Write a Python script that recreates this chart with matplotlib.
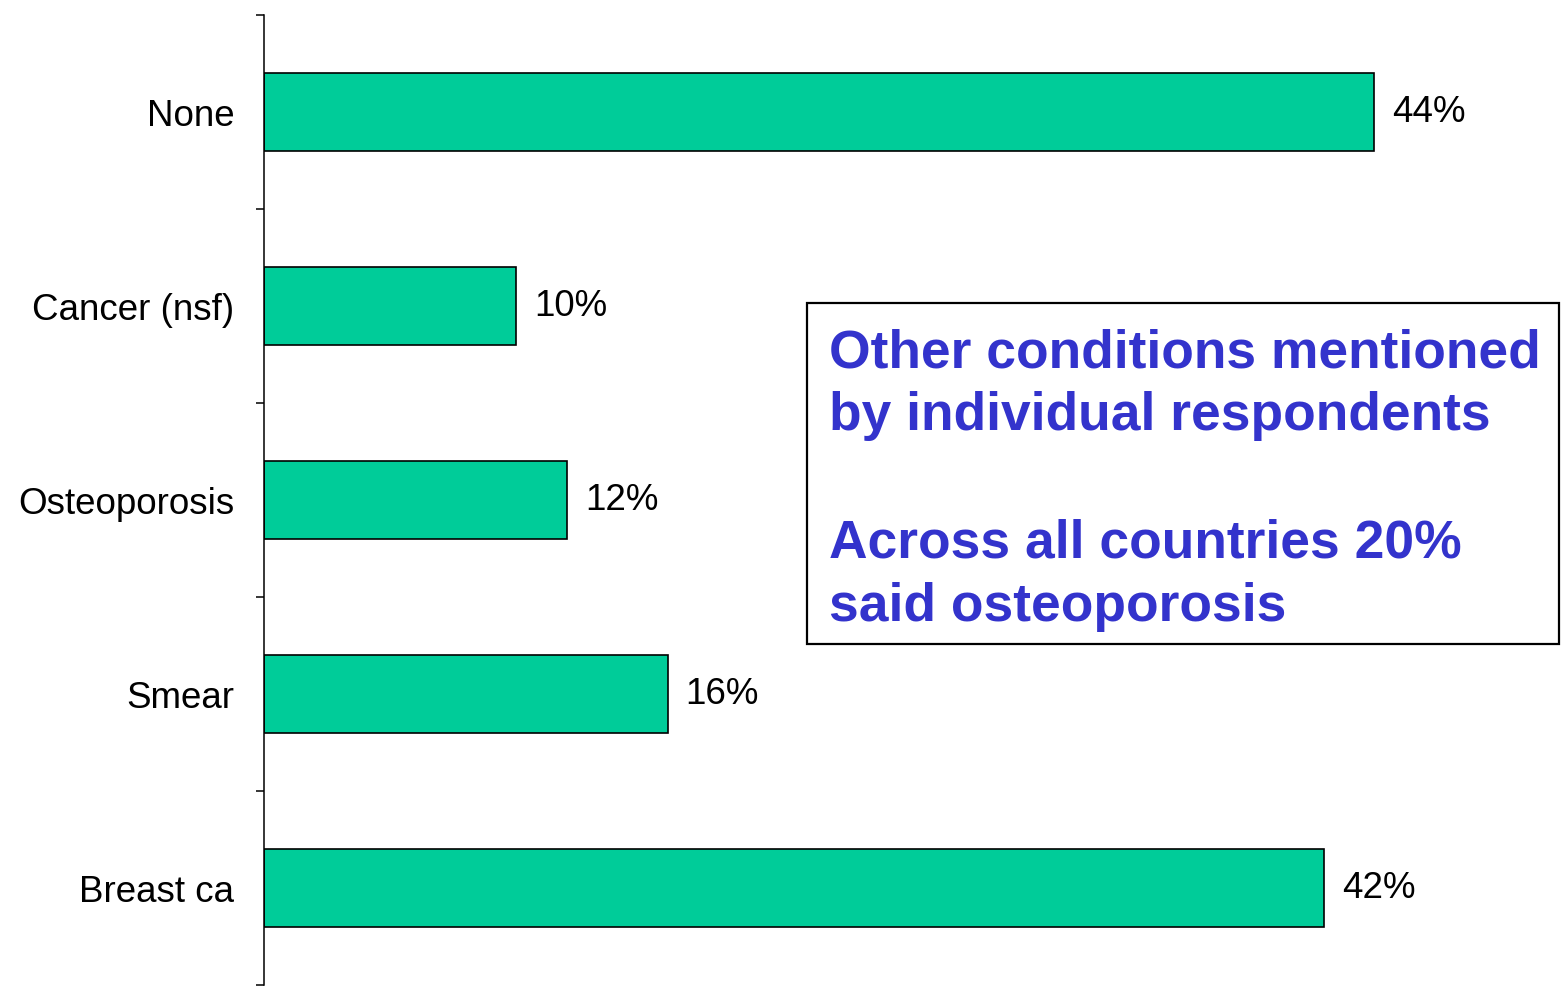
import numpy as np
import matplotlib
matplotlib.use("Agg")
import matplotlib.pyplot as plt
from matplotlib.patches import Rectangle

# data (top to bottom)
categories = ["None", "Cancer (nsf)", "Osteoporosis", "Smear", "Breast ca"]
values = [44, 10, 12, 16, 42]
value_labels = ["44%", "10%", "12%", "16%", "42%"]

box_lines = ["Other conditions mentioned",
             "by individual respondents",
             "Across all countries 20%",
             "said osteoporosis"]

W, H = 1565, 989
plt.rcParams["font.family"] = ["Liberation Sans", "DejaVu Sans"]

fig = plt.figure(figsize=(W / 100, H / 100), dpi=100)
ax = fig.add_axes([264 / W, (H - 985) / H, (W - 264) / W, 970 / H])

ypos = np.arange(len(categories))
ax.barh(ypos, values, height=0.40, color="#00CC99", edgecolor="black", linewidth=1.2)

ax.set_ylim(len(categories) - 0.5, -0.5)
ax.set_xlim(0, (W - 264) / 25.23)

# labels at centres, tick marks at category boundaries
ax.set_yticks(ypos)
ax.set_yticklabels(categories, fontsize=26.5)
ax.tick_params(axis="y", which="major", length=0, pad=21.5)
ax.set_yticks(np.arange(len(categories) + 1) - 0.5, minor=True)
ax.tick_params(axis="y", which="minor", length=5.8, width=1.1, direction="out")
ax.set_xticks([])

for s in ["top", "right", "bottom"]:
    ax.spines[s].set_visible(False)
ax.spines["left"].set_linewidth(1.1)

for y, v, lab in zip(ypos, values, value_labels):
    ax.annotate(lab, (v, y), xytext=(18, -1), textcoords="offset pixels",
                ha="left", va="center", fontsize=26.5)

# text box on the right
fig.patches.append(Rectangle((807 / W, (H - 644) / H), (1559 - 807) / W, (644 - 303) / H,
                             transform=fig.transFigure, fill=False,
                             edgecolor="black", linewidth=1.6))
baselines = [367, 430, 558, 621]
for line, b in zip(box_lines, baselines):
    fig.text(829 / W, (H - b) / H, line, ha="left", va="baseline",
             fontsize=38.4, fontweight="bold", color="#3333CC")

fig.savefig("out.png", dpi=100)
